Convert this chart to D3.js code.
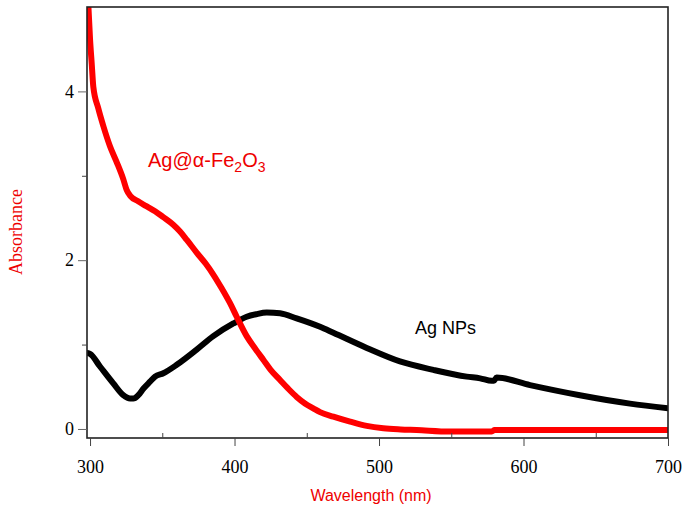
<!DOCTYPE html>
<html><head><meta charset="utf-8">
<script src="https://cdn.jsdelivr.net/npm/d3@7"></script>
<style>body{margin:0;background:#fff}svg{display:block}</style>
</head><body>
<svg id="c" width="688" height="517"></svg>
<script>
// Data
const xTicks = [300, 400, 500, 600, 700];
const xMinor = [350, 450, 550, 650];
const yTicks = [0, 2, 4];
const yMinor = [1, 3];
const feWl = [298.6, 300, 301.2, 302.3, 305.7, 309.2, 313.8, 318.5, 323, 325.4, 328, 333, 339, 345, 350.7, 357.6, 362.3, 367, 373.8, 380, 385.3, 391, 396.9, 401.5, 408.4, 414, 419.9, 425, 431.5, 437, 443, 449, 454.5, 459.2, 468.4, 480, 491.5, 503, 515, 526, 549, 565, 578, 580, 600, 650, 700];
const feAbs = [5.1, 4.62, 4.32, 4.05, 3.80, 3.59, 3.35, 3.16, 2.96, 2.83, 2.76, 2.70, 2.64, 2.58, 2.51, 2.42, 2.34, 2.24, 2.09, 1.96, 1.83, 1.67, 1.49, 1.33, 1.10, 0.96, 0.82, 0.70, 0.58, 0.48, 0.38, 0.30, 0.245, 0.20, 0.146, 0.087, 0.036, 0.008, -0.005, -0.012, -0.03, -0.03, -0.03, -0.012, -0.012, -0.012, -0.012];
const agWl = [298, 300, 306.9, 316.1, 323, 327.7, 330, 333.4, 337, 341.5, 345, 350.7, 360, 373.8, 385.3, 399.2, 408.4, 415, 422.3, 431.5, 443, 459.2, 468.4, 491.5, 514.5, 537.6, 560.7, 570, 578, 579.5, 581.4, 604.5, 639, 673.7, 700];
const agAbs = [0.90, 0.89, 0.74, 0.54, 0.40, 0.36, 0.36, 0.40, 0.48, 0.56, 0.62, 0.66, 0.76, 0.94, 1.10, 1.25, 1.33, 1.36, 1.38, 1.37, 1.31, 1.21, 1.14, 0.96, 0.80, 0.70, 0.62, 0.60, 0.57, 0.57, 0.61, 0.52, 0.40, 0.30, 0.245];

const L = 87, R = 668, T = 7, B = 438;
const svg = d3.select('#c');
const x = d3.scaleLinear().domain([297.9, 700]).range([L, R]);
const y = d3.scaleLinear().domain([-0.107, 5.0]).range([B, T]);

svg.append('clipPath').attr('id', 'clip').append('rect')
  .attr('x', L).attr('y', T).attr('width', R - L).attr('height', B - T);

const line = d3.line().x(d => x(d[0])).y(d => y(d[1])).curve(d3.curveMonotoneX);
const g = svg.append('g').attr('clip-path', 'url(#clip)');
g.append('path').datum(agWl.map((w, i) => [w, agAbs[i]]))
  .attr('d', line).attr('fill', 'none').attr('stroke', '#000').attr('stroke-width', 6)
  .attr('stroke-linejoin', 'round').attr('stroke-linecap', 'round');
g.append('path').datum(feWl.map((w, i) => [w, feAbs[i]]))
  .attr('d', line).attr('fill', 'none').attr('stroke', '#ff0000').attr('stroke-width', 6)
  .attr('stroke-linejoin', 'round').attr('stroke-linecap', 'round');

// Frame
svg.append('rect').attr('x', L).attr('y', T).attr('width', R - L).attr('height', B - T)
  .attr('fill', 'none').attr('stroke', '#222').attr('stroke-width', 1.6);

const serif = "'Liberation Serif','Times New Roman',serif";
const sans = "'Liberation Sans',Arial,sans-serif";

// X axis
const xa = svg.append('g').attr('transform', `translate(0,${B})`)
  .call(d3.axisBottom(x).tickValues(xTicks).tickSize(8).tickPadding(14).tickFormat(d3.format('d')));
xa.select('.domain').remove();
xa.selectAll('line').attr('stroke', '#444');
xa.selectAll('text').attr('font-family', serif).attr('font-size', 18).attr('fill', '#000');
const xm = svg.append('g').attr('transform', `translate(0,${B})`)
  .call(d3.axisTop(x).tickValues(xMinor).tickSize(5).tickFormat(''));
xm.select('.domain').remove();
xm.selectAll('line').attr('stroke', '#444');

// Y axis
const ya = svg.append('g').attr('transform', `translate(${L},0)`)
  .call(d3.axisLeft(y).tickValues(yTicks).tickSize(9).tickPadding(4).tickFormat(d3.format('d')));
ya.select('.domain').remove();
ya.selectAll('line').attr('stroke', '#666');
ya.selectAll('text').attr('font-family', serif).attr('font-size', 18).attr('fill', '#000');
const ym = svg.append('g').attr('transform', `translate(${L},0)`)
  .call(d3.axisLeft(y).tickValues(yMinor).tickSize(5).tickFormat(''));
ym.select('.domain').remove();
ym.selectAll('line').attr('stroke', '#444');

// Axis titles
svg.append('text').attr('transform', 'translate(22,232) rotate(-90)')
  .attr('text-anchor', 'middle').attr('font-family', serif).attr('font-size', 18)
  .attr('fill', '#ee0000').text('Absorbance');
svg.append('text').attr('x', 371).attr('y', 501).attr('text-anchor', 'middle')
  .attr('font-family', sans).attr('font-size', 16).attr('fill', '#ee0000').text('Wavelength (nm)');

// Series labels
const t1 = svg.append('text').attr('x', 148).attr('y', 167)
  .attr('font-family', sans).attr('font-size', 20).attr('fill', '#ee0000');
t1.append('tspan').text('Ag@α-Fe');
t1.append('tspan').attr('font-size', 14).attr('dy', 5).text('2');
t1.append('tspan').attr('dy', -5).text('O');
t1.append('tspan').attr('font-size', 14).attr('dy', 5).text('3');
svg.append('text').attr('x', 415).attr('y', 334)
  .attr('font-family', sans).attr('font-size', 18).attr('fill', '#000').text('Ag NPs');
</script>
</body></html>
